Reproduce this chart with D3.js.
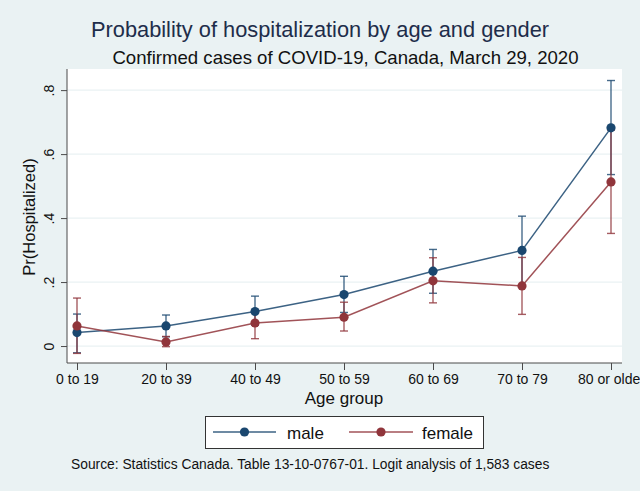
<!DOCTYPE html>
<html>
<head>
<meta charset="utf-8">
<script src="https://cdn.jsdelivr.net/npm/d3@7"></script>
<style>
  body { margin: 0; background: #eaf2f3; }
  svg { display: block; font-family: "Liberation Sans", Arial, sans-serif; }
</style>
</head>
<body>
<div id="chart_div"></div>
<script>
// data
var ageGroups = ["0 to 19", "20 to 39", "40 to 49", "50 to 59", "60 to 69", "70 to 79", "80 or older"];
var maleValues = [0.042, 0.063, 0.108, 0.161, 0.234, 0.299, 0.682];
var maleLower = [-0.021, 0.029, 0.065, 0.105, 0.165, 0.19, 0.536];
var maleUpper = [0.10, 0.097, 0.156, 0.218, 0.302, 0.406, 0.830];
var femaleValues = [0.063, 0.013, 0.072, 0.090, 0.204, 0.188, 0.513];
var femaleLower = [-0.023, -0.002, 0.023, 0.047, 0.135, 0.099, 0.352];
var femaleUpper = [0.15, 0.03, 0.112, 0.137, 0.276, 0.277, 0.675];
var yTicks = [0, 0.2, 0.4, 0.6, 0.8];
var yTickLabels = ["0", ".2", ".4", ".6", ".8"];

var W = 640, H = 491;
var plot = { left: 67, right: 622, top: 69, bottom: 363 };

var svg = d3.select("#chart_div")
  .append("svg")
  .attr("width", W)
  .attr("height", H);

svg.append("rect").attr("width", W).attr("height", H).attr("fill", "#eaf2f3");

// plot region
svg.append("rect")
  .attr("x", plot.left)
  .attr("y", plot.top)
  .attr("width", plot.right - plot.left)
  .attr("height", plot.bottom - plot.top)
  .attr("fill", "#ffffff");

var x = d3.scalePoint()
  .domain(ageGroups)
  .range([77, 611]);

var y = d3.scaleLinear()
  .domain([-0.053, 0.866])
  .range([plot.bottom, plot.top]);

// gridlines
svg.append("g")
  .selectAll("line")
  .data(yTicks)
  .enter()
  .append("line")
  .attr("x1", plot.left)
  .attr("x2", plot.right)
  .attr("y1", function(d) { return y(d); })
  .attr("y2", function(d) { return y(d); })
  .attr("stroke", "#eaf2f3")
  .attr("stroke-width", 1.2);

// y axis
var yAxis = svg.append("g")
  .attr("transform", "translate(" + plot.left + ",0)")
  .call(d3.axisLeft(y).tickValues(yTicks)
    .tickFormat(function(d, i) { return yTickLabels[i]; })
    .tickSize(6).tickSizeOuter(0));
yAxis.select(".domain").attr("stroke", "#4a4a4a").attr("d", "M0," + plot.top + "V" + plot.bottom);
yAxis.selectAll(".tick line").attr("stroke", "#4a4a4a");
yAxis.selectAll(".tick text")
  .attr("font-size", 14)
  .attr("fill", "#111")
  .attr("text-anchor", "middle")
  .attr("transform", "translate(-18,0) rotate(-90)")
  .attr("x", 0)
  .attr("dy", "0.35em");

// x axis
var xAxis = svg.append("g")
  .attr("transform", "translate(0," + plot.bottom + ")")
  .call(d3.axisBottom(x).tickSize(7).tickSizeOuter(0));
xAxis.select(".domain").attr("stroke", "#4a4a4a").attr("d", "M" + plot.left + ",0H" + plot.right);
xAxis.selectAll(".tick line").attr("stroke", "#4a4a4a");
xAxis.selectAll(".tick text")
  .attr("font-size", 14)
  .attr("fill", "#111")
  .attr("y", 11);
svg.selectAll(".tick text").attr("font-family", "Liberation Sans, Arial, sans-serif");

// axis titles
svg.append("text")
  .attr("x", 344)
  .attr("y", 404)
  .attr("text-anchor", "middle")
  .attr("font-size", 17)
  .attr("fill", "#111")
  .text("Age group");

svg.append("text")
  .attr("transform", "translate(35,217) rotate(-90)")
  .attr("text-anchor", "middle")
  .attr("font-size", 16.5)
  .attr("fill", "#111")
  .text("Pr(Hospitalized)");

// titles
svg.append("text")
  .attr("x", 320)
  .attr("y", 37)
  .attr("text-anchor", "middle")
  .attr("font-size", 21.8)
  .attr("fill", "#1e2d4a")
  .text("Probability of hospitalization by age and gender");

svg.append("text")
  .attr("x", 345.5)
  .attr("y", 64)
  .attr("text-anchor", "middle")
  .attr("font-size", 18.6)
  .attr("fill", "#111")
  .text("Confirmed cases of COVID-19, Canada, March 29, 2020");

var series = [
  { name: "male", color: "#1a476f", values: maleValues, lower: maleLower, upper: maleUpper },
  { name: "female", color: "#90353b", values: femaleValues, lower: femaleLower, upper: femaleUpper }
];

// confidence intervals first
series.forEach(function(s) {
  var g = svg.append("g")
    .attr("stroke", s.color)
    .attr("stroke-opacity", 0.8)
    .attr("stroke-width", 1.4);
  ageGroups.forEach(function(a, i) {
    var cx = x(a);
    g.append("line").attr("x1", cx).attr("x2", cx)
      .attr("y1", y(s.lower[i])).attr("y2", y(s.upper[i]));
    g.append("line").attr("x1", cx - 4).attr("x2", cx + 4)
      .attr("y1", y(s.lower[i])).attr("y2", y(s.lower[i]));
    g.append("line").attr("x1", cx - 4).attr("x2", cx + 4)
      .attr("y1", y(s.upper[i])).attr("y2", y(s.upper[i]));
  });
});

// connected lines and markers
var line = d3.line()
  .x(function(d, i) { return x(ageGroups[i]); })
  .y(function(d) { return y(d); });

series.forEach(function(s) {
  svg.append("path")
    .datum(s.values)
    .attr("d", line)
    .attr("fill", "none")
    .attr("stroke", s.color)
    .attr("stroke-opacity", 0.85)
    .attr("stroke-width", 1.5);
  svg.append("g")
    .selectAll("circle")
    .data(s.values)
    .enter()
    .append("circle")
    .attr("cx", function(d, i) { return x(ageGroups[i]); })
    .attr("cy", function(d) { return y(d); })
    .attr("r", 4.6)
    .attr("fill", s.color);
});

// legend
var legend = svg.append("g");
legend.append("rect")
  .attr("x", 205.5)
  .attr("y", 416.5)
  .attr("width", 278)
  .attr("height", 32)
  .attr("fill", "#ffffff")
  .attr("stroke", "#333")
  .attr("stroke-width", 1);

var legendItems = [
  { s: series[0], x0: 213, x1: 276, tx: 287 },
  { s: series[1], x0: 349, x1: 413, tx: 422 }
];
legendItems.forEach(function(l) {
  legend.append("line")
    .attr("x1", l.x0).attr("x2", l.x1)
    .attr("y1", 432).attr("y2", 432)
    .attr("stroke", l.s.color)
    .attr("stroke-opacity", 0.85)
    .attr("stroke-width", 1.5);
  legend.append("circle")
    .attr("cx", (l.x0 + l.x1) / 2)
    .attr("cy", 432)
    .attr("r", 4.6)
    .attr("fill", l.s.color);
  legend.append("text")
    .attr("x", l.tx)
    .attr("y", 438.5)
    .attr("font-size", 17)
    .attr("fill", "#111")
    .text(l.s.name);
});

// note
svg.append("text")
  .attr("x", 71)
  .attr("y", 469)
  .attr("font-size", 13.8)
  .attr("fill", "#111")
  .text("Source: Statistics Canada. Table 13-10-0767-01. Logit analysis of 1,583 cases");
</script>
</body>
</html>
